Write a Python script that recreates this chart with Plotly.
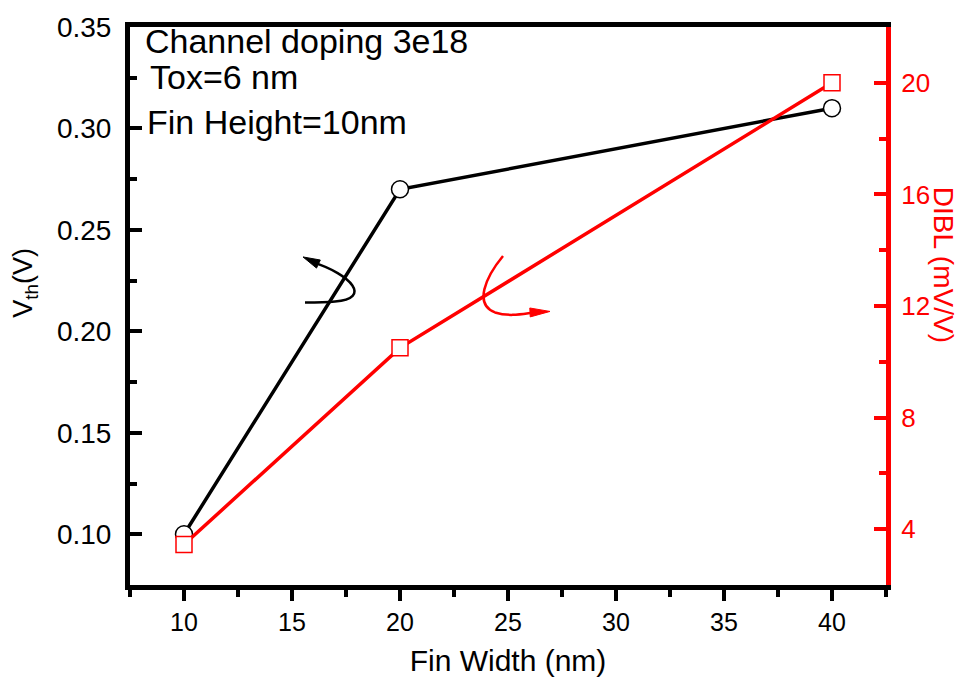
import plotly.graph_objects as go
import math

fin_width = [10, 20, 40]
vth = [0.10, 0.27, 0.31]
dibl = [3.45, 10.5, 20.0]
x_ticks = [10, 15, 20, 25, 30, 35, 40]
vth_ticks = [0.10, 0.15, 0.20, 0.25, 0.30, 0.35]
dibl_ticks = [4, 8, 12, 16, 20]
notes = ["Channel doping 3e18", "Tox=6 nm", "Fin Height=10nm"]

W, H = 965, 688
L, R, T, B = 130, 79, 22, 103
PW, PH = W - L - R, H - T - B
FONT = "Arial, Liberation Sans, sans-serif"
RED = "#ff0000"

def px(x, y):
    return (x - L) / PW, (H - B - y) / PH

def path_from(points_cmds):
    out = []
    for cmd, pts in points_cmds:
        s = cmd
        for (x, y) in pts:
            u, v = px(x, y)
            s += f" {u:.5f},{v:.5f}"
        out.append(s)
    return " ".join(out)

def head(tip, frm, length, width):
    dx, dy = tip[0] - frm[0], tip[1] - frm[1]
    n = math.hypot(dx, dy)
    ux, uy = dx / n, dy / n
    bx, by = tip[0] - ux * length, tip[1] - uy * length
    p1 = (bx - uy * width / 2, by + ux * width / 2)
    p2 = (bx + uy * width / 2, by - ux * width / 2)
    return path_from([("M", [tip]), ("L", [p1]), ("L", [p2])]) + " Z"

fig = go.Figure()
fig.add_trace(go.Scatter(
    x=fin_width, y=vth, mode="lines+markers", yaxis="y",
    line=dict(color="black", width=3.5),
    marker=dict(symbol="circle", size=17, color="white", line=dict(color="black", width=1.5)),
    showlegend=False, cliponaxis=False))
fig.add_trace(go.Scatter(
    x=fin_width, y=dibl, mode="lines+markers", yaxis="y2",
    line=dict(color=RED, width=3.5),
    marker=dict(symbol="square", size=16, color="white", line=dict(color=RED, width=1.5)),
    showlegend=False, cliponaxis=False))

shapes = []
# black curved arrow
shapes.append(dict(type="path", xref="paper", yref="paper",
    path=path_from([("M", [(312, 259)]), ("C", [(352, 272), (372, 296), (335, 299)]), ("C", [(325, 300), (315, 300), (305, 300)])]),
    line=dict(color="black", width=2.5)))
shapes.append(dict(type="path", xref="paper", yref="paper",
    path=head((303, 254), (318, 261), 17, 9), fillcolor="black", line=dict(color="black", width=1)))
# red curved arrow
shapes.append(dict(type="path", xref="paper", yref="paper",
    path=path_from([("M", [(503, 253)]), ("C", [(485, 275), (474, 302), (495, 310)]), ("C", [(510, 315), (525, 311), (535, 310)])]),
    line=dict(color=RED, width=2.5)))
shapes.append(dict(type="path", xref="paper", yref="paper",
    path=head((550, 309), (530, 310), 20, 9), fillcolor=RED, line=dict(color=RED, width=1)))

annotations = []
note_pos = [(143, 36), (148, 72), (145, 118)]
for t, (x, y) in zip(notes, note_pos):
    u, v = px(x, y)
    annotations.append(dict(text=t, x=u, y=v, xref="paper", yref="paper", xanchor="left", yanchor="middle",
                            showarrow=False, font=dict(family=FONT, size=34, color="black")))
u, v = px(943, 262)
annotations.append(dict(text="DIBL (mV/V)", x=u, y=v, xref="paper", yref="paper", textangle=90,
                        xanchor="center", yanchor="middle", showarrow=False,
                        font=dict(family=FONT, size=28, color=RED)))
u, v = px(25, 280)
annotations.append(dict(text="V<sub>th</sub>(V)", x=u, y=v, xref="paper", yref="paper", textangle=-90,
                        xanchor="center", yanchor="middle", showarrow=False,
                        font=dict(family=FONT, size=27, color="black")))

fig.update_layout(
    width=W, height=H, margin=dict(l=L, r=R, t=T, b=B),
    paper_bgcolor="white", plot_bgcolor="white",
    font=dict(family=FONT, color="black"),
    shapes=shapes, annotations=annotations,
    xaxis=dict(range=[7.5, 42.5], tickvals=x_ticks, ticktext=[str(v) for v in x_ticks],
               showline=True, linecolor="black", linewidth=5, mirror=True,
               ticks="outside", ticklen=11, tickwidth=4, tickcolor="black",
               minor=dict(dtick=2.5, tick0=7.5, ticks="outside", ticklen=7, tickwidth=4, tickcolor="black"),
               showgrid=False, zeroline=False, tickfont=dict(size=25, family=FONT),
               ticklabelstandoff=0,
               title=dict(text="Fin Width (nm)", font=dict(size=30, family=FONT), standoff=16)),
    yaxis=dict(range=[0.075, 0.35], tickvals=vth_ticks, ticktext=[f"{v:.2f}" for v in vth_ticks],
               showline=True, linecolor="black", linewidth=5,
               ticks="inside", ticklen=12, tickwidth=4, tickcolor="black",
               minor=dict(dtick=0.025, tick0=0.075, ticks="inside", ticklen=7, tickwidth=4, tickcolor="black"),
               showgrid=False, zeroline=False, tickfont=dict(size=28, family=FONT),
               ticklabelstandoff=8),
    yaxis2=dict(range=[2, 22], overlaying="y", side="right", anchor="x",
                tickvals=dibl_ticks, ticktext=[str(v) for v in dibl_ticks],
                showline=True, linecolor=RED, linewidth=5,
                ticks="inside", ticklen=12, tickwidth=4, tickcolor=RED,
                minor=dict(dtick=2, tick0=2, ticks="inside", ticklen=7, tickwidth=4, tickcolor=RED),
                showgrid=False, zeroline=False, tickfont=dict(size=26, family=FONT, color=RED),
                ticklabelstandoff=5),
)

fig.write_html("out.html")
